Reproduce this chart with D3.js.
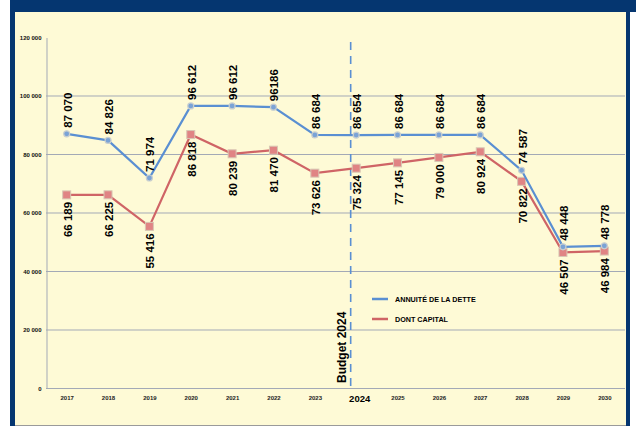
<!DOCTYPE html>
<html lang='fr'>
<head>
<meta charset='UTF-8'>
<title>Annuité de la dette</title>
<script src='https://cdn.jsdelivr.net/npm/d3@7/dist/d3.min.js'></script>
<style>
  body { margin: 0; background: #fff; }
  svg { display: block; font-family: 'Liberation Sans', Arial, sans-serif; }
</style>
</head>
<body>
<div id='chart'></div>
<script>
    const years = ['2017', '2018', '2019', '2020', '2021', '2022', '2023', '2024', '2025', '2026', '2027', '2028', '2029', '2030'];
    const annuite = [87070, 84826, 71974, 96612, 96612, 96186, 86684, 86654, 86684, 86684, 86684, 74587, 48448, 48778];
    const capital = [66189, 66225, 55416, 86818, 80239, 81470, 73626, 75324, 77145, 79000, 80924, 70822, 46507, 46984];
    const annuiteLabels = ['87 070', '84 826', '71 974', '96 612', '96 612', '96186', '86 684', '86 654', '86 684', '86 684', '86 684', '74 587', '48 448', '48 778'];
    const capitalLabels = ['66 189', '66 225', '55 416', '86 818', '80 239', '81 470', '73 626', '75 324', '77 145', '79 000', '80 924', '70 822', '46 507', '46 984'];
    const yTicks = [0, 20000, 40000, 60000, 80000, 100000, 120000];
    const legendNames = ['ANNUITÉ DE LA DETTE', 'DONT CAPITAL'];

    const W = 636, H = 428;
    const blue = '#5a8fd2', red = '#cf6466';
    const svg = d3.select('#chart').append('svg').attr('width', W).attr('height', H);

    // frame
    svg.append('rect').attr('x', 10).attr('y', 0).attr('width', 620).attr('height', 426).attr('fill', '#053670');
    svg.append('rect').attr('x', 10).attr('y', 0).attr('width', 626).attr('height', 12).attr('fill', '#053670');
    svg.append('rect').attr('x', 15).attr('y', 12).attr('width', 611).attr('height', 413).attr('fill', '#fefad6');
    svg.append('line').attr('x1', 15).attr('x2', 626).attr('y1', 425.5).attr('y2', 425.5).attr('stroke', '#9a9a9a');

    const x = d3.scalePoint().domain(years).range([46, 625]).padding(0.5);
    const y = d3.scaleLinear().domain([0, 120000]).range([388.5, 37.5]);

    // grid
    svg.append('g').selectAll('line').data(yTicks.filter(d => d > 0 && d < 120000)).join('line')
        .attr('x1', 46).attr('x2', 625)
        .attr('y1', d => y(d)).attr('y2', d => y(d))
        .attr('stroke', '#a3a9b6').attr('stroke-width', 1);

    const yAxis = svg.append('g').attr('transform', 'translate(46.5,0)')
        .call(d3.axisLeft(y).tickValues(yTicks).tickSize(0).tickPadding(5)
            .tickFormat(d => d3.format(',')(d).replace(',', ' ')));
    yAxis.select('.domain').attr('stroke', '#a3a9b6');
    yAxis.selectAll('text').attr('font-size', 6).attr('font-weight', 'bold').attr('fill', '#111');

    const xAxis = svg.append('g').attr('transform', 'translate(0,388.5)')
        .call(d3.axisBottom(x).tickSize(0).tickPadding(6));
    xAxis.select('.domain').attr('stroke', '#a3a9b6').attr('d', 'M46,0H625');
    xAxis.selectAll('text').attr('font-size', 6).attr('font-weight', 'bold').attr('fill', '#222')
        .attr('dy', '0.9em');
    xAxis.selectAll('text').filter(d => d === '2024')
        .attr('font-size', 9.5).attr('fill', '#000').attr('dy', '0.75em').attr('dx', 3);

    // budget line
    const bx = x('2024') - 5.5;
    svg.append('line').attr('x1', bx).attr('x2', bx).attr('y1', 42).attr('y2', 390)
        .attr('stroke', blue).attr('stroke-width', 1.6).attr('stroke-dasharray', '8,6');
    svg.append('text').attr('transform', `translate(${bx - 9},383) rotate(-90)`)
        .attr('dy', '0.35em').attr('font-size', 12).attr('font-weight', 'bold').text('Budget 2024');

    const line = d3.line().x((d, i) => x(years[i])).y(d => y(d));

    // capital series
    svg.append('path').datum(capital).attr('d', line)
        .attr('fill', 'none').attr('stroke', red).attr('stroke-width', 2.2);
    svg.append('g').selectAll('rect').data(capital).join('rect')
        .attr('x', (d, i) => x(years[i]) - 4).attr('y', d => y(d) - 4)
        .attr('width', 8).attr('height', 8)
        .attr('fill', '#e08484').attr('stroke', '#d9c7b4').attr('stroke-width', 1);

    // annuite series
    svg.append('path').datum(annuite).attr('d', line)
        .attr('fill', 'none').attr('stroke', blue).attr('stroke-width', 2.2);
    svg.append('g').selectAll('circle').data(annuite).join('circle')
        .attr('cx', (d, i) => x(years[i])).attr('cy', d => y(d)).attr('r', 3)
        .attr('fill', '#7ba3d6').attr('stroke', '#c9cfcf').attr('stroke-width', 1.2);

    // labels
    svg.append('g').selectAll('text').data(annuite).join('text')
        .attr('transform', (d, i) => `translate(${x(years[i]) + 1},${y(d) - 6}) rotate(-90)`)
        .attr('dy', '0.35em').attr('font-size', 11.5).attr('font-weight', 'bold').attr('fill', '#000')
        .text((d, i) => annuiteLabels[i]);
    svg.append('g').selectAll('text').data(capital).join('text')
        .attr('transform', (d, i) => `translate(${x(years[i]) + 1},${y(d) + 7}) rotate(-90)`)
        .attr('dy', '0.35em').attr('text-anchor', 'end').attr('font-size', 11.5).attr('font-weight', 'bold').attr('fill', '#000')
        .text((d, i) => capitalLabels[i]);

    // legend
    const legend = svg.append('g').attr('transform', 'translate(372,299)');
    legend.selectAll('g').data(legendNames).join('g')
        .attr('transform', (d, i) => `translate(0,${i * 20})`)
        .each(function (d, i) {
            const g = d3.select(this);
            g.append('line').attr('x1', 0).attr('x2', 16).attr('stroke', i ? red : blue).attr('stroke-width', 2.5);
            g.append('text').attr('x', 23).attr('dy', '0.35em').attr('font-size', 7.2)
                .attr('font-weight', 'bold').attr('fill', '#000').text(d);
        });
</script>
</body>
</html>
